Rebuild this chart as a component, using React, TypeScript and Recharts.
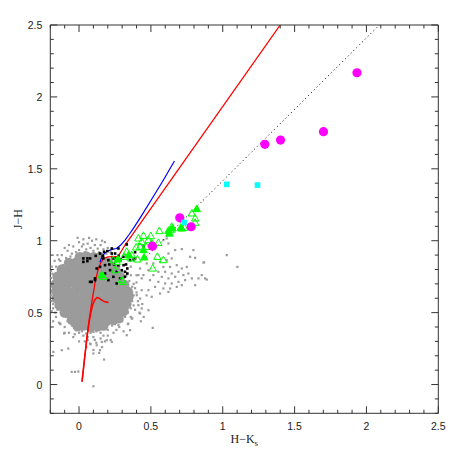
import { ScatterChart, Scatter, XAxis, YAxis } from 'recharts'

const GRAY = '#9b9b9b'
const FRAME = '#333'

const axisTicks = [-0.2, -0.1, 0, 0.1, 0.2, 0.3, 0.4, 0.5, 0.6, 0.7, 0.8, 0.9, 1, 1.1, 1.2, 1.3, 1.4, 1.5, 1.6, 1.7, 1.8, 1.9, 2, 2.1, 2.2, 2.3, 2.4, 2.5]

// dense part of the field-star cloud (drawn with large dots)
const grayCore = [
  [-0.01, 0.405], [0.03, 0.41], [0.08, 0.40], [0.13, 0.405], [0.17, 0.41],
  [-0.05, 0.45], [-0.005, 0.455], [0.045, 0.445], [0.095, 0.45], [0.145, 0.455], [0.195, 0.445], [0.24, 0.45], [0.275, 0.46],
  [-0.10, 0.50], [-0.06, 0.495], [-0.01, 0.505], [0.04, 0.50], [0.09, 0.495], [0.14, 0.505], [0.19, 0.50], [0.24, 0.495], [0.28, 0.505], [0.31, 0.51],
  [-0.135, 0.55], [-0.095, 0.555], [-0.045, 0.545], [0.005, 0.55], [0.055, 0.555], [0.105, 0.545], [0.155, 0.55], [0.205, 0.555], [0.255, 0.545], [0.30, 0.55], [0.33, 0.56],
  [-0.155, 0.60], [-0.12, 0.595], [-0.07, 0.605], [-0.02, 0.60], [0.03, 0.595], [0.08, 0.605], [0.13, 0.60], [0.18, 0.595], [0.23, 0.605], [0.28, 0.60], [0.32, 0.595], [0.345, 0.61],
  [-0.16, 0.65], [-0.125, 0.655], [-0.075, 0.645], [-0.025, 0.65], [0.025, 0.655], [0.075, 0.645], [0.125, 0.65], [0.175, 0.655], [0.225, 0.645], [0.275, 0.65], [0.315, 0.655], [0.34, 0.645],
  [-0.16, 0.70], [-0.12, 0.695], [-0.07, 0.705], [-0.02, 0.70], [0.03, 0.695], [0.08, 0.705], [0.13, 0.70], [0.18, 0.695], [0.23, 0.705], [0.28, 0.70], [0.315, 0.695],
  [-0.15, 0.75], [-0.105, 0.755], [-0.055, 0.745], [-0.005, 0.75], [0.045, 0.755], [0.095, 0.745], [0.145, 0.75], [0.195, 0.755], [0.245, 0.745], [0.285, 0.75],
  [-0.12, 0.80], [-0.08, 0.795], [-0.03, 0.805], [0.02, 0.80], [0.07, 0.795], [0.12, 0.805], [0.17, 0.80], [0.22, 0.795], [0.25, 0.80],
  [-0.07, 0.845], [-0.025, 0.845], [0.025, 0.855], [0.075, 0.85], [0.125, 0.845], [0.17, 0.85], [0.205, 0.845],
  [0.005, 0.885], [0.05, 0.89], [0.10, 0.885], [0.145, 0.885],
]

// scattered field stars around the core
const grayHalo = [
  [-0.08, 0.93], [-0.04, 0.96], [0.0, 0.99], [0.03, 1.01], [0.06, 0.98], [0.09, 1.0], [0.12, 1.01], [0.15, 0.97], [0.18, 0.99], [0.2, 0.95],
  [-0.02, 0.92], [0.05, 0.94], [0.1, 0.93], [0.14, 0.92], [-0.12, 0.9], [-0.06, 0.89], [0.22, 0.92], [0.02, 0.96], [0.07, 1.02], [-0.1, 0.95],
  [-0.14, 0.87], [0.17, 0.94], [0.11, 0.97], [-0.03, 0.87],
  [-0.13, 0.86], [-0.11, 0.83], [-0.09, 0.88], [-0.05, 0.91], [0.0, 0.935], [0.04, 0.92], [0.08, 0.95], [0.13, 0.945], [0.19, 0.91], [0.23, 0.89],
  [0.25, 0.86], [0.03, 0.975], [-0.07, 0.97], [0.16, 1.0], [-0.01, 1.02],
  [-0.19, 0.82], [-0.195, 0.74], [-0.19, 0.68], [-0.195, 0.62], [-0.18, 0.56], [-0.19, 0.51], [-0.17, 0.86], [-0.16, 0.47], [-0.14, 0.43],
  [-0.18, 0.44], [-0.15, 0.9], [-0.195, 0.79], [-0.185, 0.71], [-0.19, 0.58], [-0.17, 0.65],
  [-0.185, 0.77], [-0.175, 0.6], [-0.18, 0.53], [-0.17, 0.76], [-0.16, 0.82], [-0.165, 0.5], [-0.15, 0.52],
  [-0.1, 0.4], [-0.07, 0.36], [-0.04, 0.33], [0.0, 0.3], [0.03, 0.34], [0.06, 0.31], [0.08, 0.28], [0.1, 0.33], [0.12, 0.29], [0.15, 0.32],
  [0.18, 0.3], [0.2, 0.34], [0.22, 0.31], [0.24, 0.36], [0.05, 0.26], [0.1, 0.24], [0.14, 0.22], [0.16, 0.26], [0.02, 0.37], [-0.02, 0.38],
  [0.26, 0.38], [0.28, 0.4], [0.08, 0.36], [0.12, 0.37], [-0.13, 0.42], [-0.1, 0.36], [0.077, 0.285], [0.123, 0.273], [0.146, 0.239], [0.1, 0.216],
  [0.193, 0.308], [0.228, 0.296], [0.158, 0.296], [0.274, 0.413], [0.343, 0.424], [0.367, 0.459], [0.332, 0.343], [0.355, 0.378], [-0.104, 0.355], [-0.132, 0.424],
  [-0.08, 0.44], [-0.05, 0.41], [-0.09, 0.47], [0.0, 0.36], [0.05, 0.355], [0.1, 0.365], [0.15, 0.36], [0.2, 0.38], [0.23, 0.41], [0.25, 0.42],
  [0.3, 0.44], [0.32, 0.47], [0.06, 0.33], [0.11, 0.31], [0.17, 0.34], [0.04, 0.3], [-0.03, 0.35],
  [0.1, -0.012], [0.174, 0.174], [-0.051, 0.088], [-0.028, 0.088], [-0.005, 0.09], [-0.075, 0.25], [-0.179, 0.227], [-0.12, 0.239], [0.513, 0.394],
  [0.36, 0.76], [0.38, 0.7], [0.4, 0.64], [0.41, 0.58], [0.39, 0.52], [0.37, 0.46], [0.42, 0.5], [0.44, 0.56], [0.45, 0.47], [0.43, 0.44],
  [0.34, 0.42], [0.31, 0.37], [0.47, 0.62], [0.4, 0.76], [0.36, 0.82], [0.37, 0.64], [0.38, 0.55],
  [0.34, 0.5], [0.36, 0.53], [0.37, 0.58], [0.38, 0.62], [0.37, 0.68], [0.35, 0.72], [0.33, 0.76], [0.3, 0.79], [0.28, 0.82], [0.39, 0.67],
  [0.4, 0.71], [0.36, 0.47],
]

// reddened field stars stretching to the right
const grayTail = [
  [0.587, 1.004], [0.61, 1.016], [0.622, 0.981], [0.669, 0.935], [0.715, 0.942], [0.796, 0.935], [0.773, 0.888], [0.808, 0.881], [0.866, 0.849],
  [0.622, 0.911], [0.645, 0.877], [0.61, 0.865], [0.564, 0.853], [0.517, 0.842], [0.587, 0.818], [0.634, 0.818], [0.68, 0.83], [0.715, 0.807],
  [0.75, 0.818], [0.692, 0.784], [0.645, 0.772], [0.599, 0.784], [0.552, 0.784], [0.483, 0.795], [0.448, 0.761], [0.517, 0.761], [0.576, 0.749],
  [0.622, 0.738], [0.669, 0.749], [0.726, 0.761], [0.761, 0.772], [0.785, 0.738], [0.831, 0.738], [0.877, 0.738], [0.738, 0.726], [0.692, 0.714],
  [0.645, 0.703], [0.599, 0.703], [0.552, 0.714], [0.494, 0.726], [0.436, 0.738], [0.413, 0.761], [0.425, 0.807], [0.471, 0.842], [0.529, 0.679],
  [0.587, 0.668], [0.634, 0.668], [0.68, 0.679], [0.715, 0.691], [0.564, 0.633], [0.622, 0.644], [0.483, 0.656], [0.436, 0.656], [0.402, 0.621],
  [0.425, 0.598], [0.506, 0.61], [0.413, 0.552], [0.436, 0.529], [0.483, 0.517], [0.425, 0.494], [0.808, 0.691], [0.854, 0.761],
  [1.028, 0.9], [1.102, 0.818], [0.87, 0.849], [0.889, 0.73],
]

const blackPts = [
  [0.03, 0.853], [0.058, 0.858], [0.077, 0.714], [0.111, 0.726], [0.03, 0.877], [0.058, 0.877], [0.116, 0.895], [0.146, 0.911], [0.174, 0.923],
  [0.197, 0.928], [0.228, 0.911], [0.251, 0.911], [0.274, 0.895], [0.29, 0.872], [0.169, 0.877], [0.204, 0.865], [0.235, 0.877], [0.181, 0.83],
  [0.211, 0.835], [0.244, 0.835], [0.274, 0.83], [0.146, 0.818], [0.123, 0.807], [0.216, 0.795], [0.262, 0.784], [0.297, 0.795], [0.327, 0.835],
  [0.355, 0.865], [0.39, 0.877], [0.181, 0.772], [0.146, 0.749], [0.111, 0.738], [0.239, 0.749], [0.286, 0.738], [0.32, 0.749], [0.204, 0.726],
  [0.088, 0.714], [0.262, 0.703], [0.336, 0.772], [0.077, 0.877], [0.165, 0.895], [0.251, 0.877], [0.309, 0.888], [0.228, 0.946], [0.274, 0.946],
  [0.332, 0.974], [0.32, 0.784], [0.336, 0.807], [0.31, 0.83], [0.355, 0.888], [0.39, 0.92], [0.448, 0.958], [0.38, 0.87],
]

const greenOpen = [
  [0.448, 1.034], [0.413, 1.016], [0.499, 1.032], [0.483, 1.004], [0.559, 1.067], [0.552, 0.985], [0.506, 0.981], [0.397, 0.953], [0.425, 0.958],
  [0.332, 0.923], [0.362, 0.877], [0.406, 0.87], [0.313, 0.888], [0.513, 0.807], [0.545, 0.888], [0.304, 0.714], [0.251, 0.795], [0.169, 0.749],
  [0.239, 0.865], [0.645, 1.097], [0.733, 1.09], [0.785, 1.19], [0.808, 1.155], [0.808, 1.125], [0.638, 1.073], [0.587, 0.865], [0.262, 0.853],
  [0.297, 0.726], [0.367, 0.9], [0.436, 0.992], [0.467, 0.958],
]

const greenFilled = [
  [0.819, 1.22], [0.708, 1.09], [0.65, 1.085], [0.453, 0.884], [0.27, 0.87], [0.158, 0.761], [0.448, 0.935], [0.622, 1.069], [0.715, 1.085],
  [0.629, 1.05], [0.345, 0.9],
]

const magentaPts = [[1.934, 2.168], [1.701, 1.758], [1.402, 1.7], [1.293, 1.67], [0.701, 1.159], [0.78, 1.097], [0.511, 0.962]]

const cyanPts = [[1.028, 1.392], [1.242, 1.387], [0.731, 1.127]]

const dwarfLocus = [
  [0.02, 0.02], [0.035, 0.15], [0.05, 0.28], [0.065, 0.4], [0.08, 0.49], [0.095, 0.555], [0.11, 0.59], [0.125, 0.605], [0.14, 0.6],
  [0.16, 0.585], [0.18, 0.575], [0.205, 0.57],
]

const giantLocus = [
  [0.022, 0.02], [0.03, 0.1], [0.04, 0.2], [0.055, 0.33], [0.07, 0.45], [0.09, 0.58], [0.11, 0.7], [0.13, 0.79], [0.15, 0.845], [0.17, 0.875],
  [0.2, 0.888], [0.24, 0.89], [0.27, 0.89], [0.29, 0.92], [0.32, 0.97], [1.4, 2.5],
]

const blueLine = [
  [0.145, 0.85], [0.16, 0.89], [0.18, 0.915], [0.2, 0.928], [0.23, 0.94], [0.26, 0.946], [0.29, 0.97], [0.32, 1.004], [0.35, 1.045], [0.378, 1.086],
  [0.42, 1.15], [0.5, 1.28], [0.58, 1.41], [0.664, 1.554],
]

const dottedLine = [[0.45, 0.87], [2.09, 2.5]]

const toXY = (a: number[][]) => a.map(([x, y]) => ({ x, y }))
const isMajor = (v: number) => Math.abs(v * 2 - Math.round(v * 2)) < 1e-6
const fmt = (v: number) => String(Math.round(v * 10) / 10)
const tickFont = { fontFamily: '"Liberation Sans", Arial, sans-serif', fontSize: 10.5, fill: '#222' }

const BottomTick = (p: any) => {
  const v = p.payload.value
  const m = isMajor(v)
  return (
    <g>
      <line x1={p.x} y1={p.y} x2={p.x} y2={p.y - (m ? 7 : 3.5)} stroke={FRAME} />
      {m && <text x={p.x} y={p.y + 17} textAnchor="middle" {...tickFont}>{fmt(v)}</text>}
    </g>
  )
}
const TopTick = (p: any) => {
  const m = isMajor(p.payload.value)
  return <line x1={p.x} y1={p.y} x2={p.x} y2={p.y + (m ? 7 : 3.5)} stroke={FRAME} />
}
const LeftTick = (p: any) => {
  const v = p.payload.value
  const m = isMajor(v)
  return (
    <g>
      <line x1={p.x} y1={p.y} x2={p.x + (m ? 7 : 3.5)} y2={p.y} stroke={FRAME} />
      {m && <text x={p.x - 8} y={p.y + 4} textAnchor="end" {...tickFont}>{fmt(v)}</text>}
    </g>
  )
}
const RightTick = (p: any) => {
  const m = isMajor(p.payload.value)
  return <line x1={p.x} y1={p.y} x2={p.x - (m ? 7 : 3.5)} y2={p.y} stroke={FRAME} />
}

const titleFont = { fontFamily: '"Liberation Serif", "Times New Roman", serif', fontSize: 12, fill: '#222' }
const XTitle = (p: any) => {
  const vb = p.viewBox
  return (
    <text x={vb.x + vb.width / 2} y={vb.y + 30} textAnchor="middle" {...titleFont}>
      H−K<tspan fontSize={9} dy={3}>s</tspan>
    </text>
  )
}
const YTitle = (p: any) => {
  const vb = p.viewBox
  const cx = 14
  const cy = vb.y + vb.height / 2
  return (
    <text x={cx} y={cy} textAnchor="middle" transform={`rotate(-90 ${cx} ${cy})`} {...titleFont}>J−H</text>
  )
}

const coreDot = (p: any) => <circle cx={p.cx} cy={p.cy} r={5.2} fill={GRAY} />
const smallDot = (p: any) => <rect x={p.cx - 1.1} y={p.cy - 1.1} width={2.2} height={2.2} fill={GRAY} />
const blackDot = (p: any) => <rect x={p.cx - 1.3} y={p.cy - 1.3} width={2.6} height={2.6} fill="#000" />
const tri = (p: any, filled: boolean) => (
  <polygon
    points={`${p.cx},${p.cy - 4} ${p.cx - 3.7},${p.cy + 2.6} ${p.cx + 3.7},${p.cy + 2.6}`}
    fill={filled ? '#00ff00' : 'none'}
    stroke="#00ff00"
    strokeWidth={1}
  />
)
const magentaDot = (p: any) => <circle cx={p.cx} cy={p.cy} r={4.6} fill="#ff00ff" />
const cyanSq = (p: any) => <rect x={p.cx - 2.8} y={p.cy - 2.8} width={5.6} height={5.6} fill="#00ffff" />
const noShape = () => <g />

export default function App() {
  const ax = { xAxisId: 'b', yAxisId: 'l', isAnimationActive: false }
  return (
    <ScatterChart width={440} height={440} margin={{ top: 0, right: 0, bottom: 0, left: 0 }}>
      <XAxis xAxisId="b" type="number" dataKey="x" domain={[-0.2, 2.5]} ticks={axisTicks} interval={0} height={34.7}
        tickSize={0} tickMargin={0} tickLine={false} axisLine={{ stroke: FRAME }} tick={BottomTick} allowDataOverflow label={XTitle} />
      <XAxis xAxisId="t" orientation="top" type="number" dataKey="x" domain={[-0.2, 2.5]} ticks={axisTicks} interval={0} height={17}
        tickSize={0} tickMargin={0} tickLine={false} axisLine={{ stroke: FRAME }} tick={TopTick} allowDataOverflow />
      <YAxis yAxisId="l" type="number" dataKey="y" domain={[-0.2, 2.5]} ticks={axisTicks} interval={0} width={42.3}
        tickSize={0} tickMargin={0} tickLine={false} axisLine={{ stroke: FRAME }} tick={LeftTick} allowDataOverflow label={YTitle} />
      <YAxis yAxisId="r" orientation="right" type="number" dataKey="y" domain={[-0.2, 2.5]} ticks={axisTicks} interval={0} width={9.7}
        tickSize={0} tickMargin={0} tickLine={false} axisLine={{ stroke: FRAME }} tick={RightTick} allowDataOverflow />
      <Scatter xAxisId="t" yAxisId="r" data={[]} isAnimationActive={false} />

      <Scatter {...ax} data={toXY(grayCore)} shape={coreDot} />
      <Scatter {...ax} data={toXY(grayHalo)} shape={smallDot} />
      <Scatter {...ax} data={toXY(grayTail)} shape={smallDot} />

      <Scatter {...ax} data={toXY(dottedLine)} shape={noShape} line={{ stroke: '#000', strokeWidth: 1, strokeDasharray: '1 3' }} lineType="joint" />
      <Scatter {...ax} data={toXY(dwarfLocus)} shape={noShape} line={{ stroke: '#ff0000', strokeWidth: 1.5 }} lineType="joint" />
      <Scatter {...ax} data={toXY(giantLocus)} shape={noShape} line={{ stroke: '#ff0000', strokeWidth: 1.3 }} lineType="joint" />
      <Scatter {...ax} data={toXY(blueLine)} shape={noShape} line={{ stroke: '#0000ff', strokeWidth: 1.2 }} lineType="joint" />

      <Scatter {...ax} data={toXY(blackPts)} shape={blackDot} />
      <Scatter {...ax} data={toXY(greenOpen)} shape={(p: any) => tri(p, false)} />
      <Scatter {...ax} data={toXY(greenFilled)} shape={(p: any) => tri(p, true)} />
      <Scatter {...ax} data={toXY(magentaPts)} shape={magentaDot} />
      <Scatter {...ax} data={toXY(cyanPts)} shape={cyanSq} />
    </ScatterChart>
  )
}
